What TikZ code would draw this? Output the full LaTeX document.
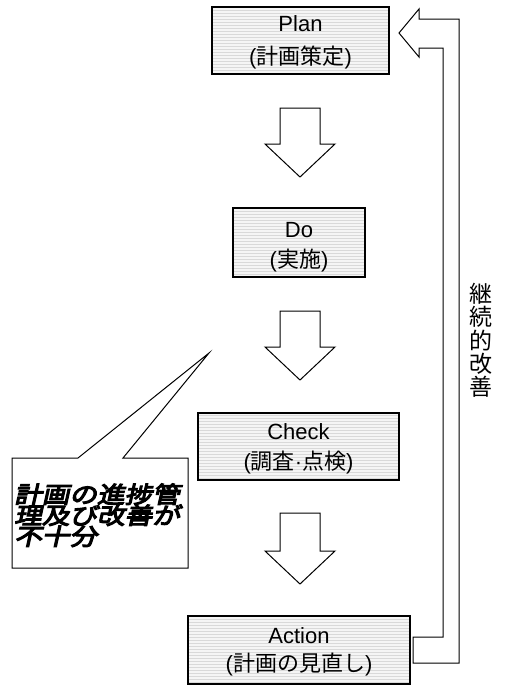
\documentclass[tikz,border=0pt]{standalone}
\usepackage{fontspec}
\setmainfont{Liberation Sans}
\newfontfamily\cjk{Noto Sans CJK JP}
\newfontfamily\cjkbi{Noto Sans CJK JP}[FakeSlant=0.22,FakeStretch=1.2,FakeBold=5]
\usetikzlibrary{patterns}
\tikzset{
  stagebox/.style={draw=black, line width=1.3pt, pattern=horizontal lines, pattern color=gray!30,
    preaction={fill=gray!8}, inner sep=0pt},
  ltxt/.style={font=\fontsize{22}{24}\selectfont, anchor=base, inner sep=0pt},
  jtxt/.style={font=\fontsize{22}{24}\selectfont, anchor=base, inner sep=0pt},
  blockarrow/.style={draw=black, line width=1pt, fill=white, line join=miter},
  calloutbox/.style={draw=black, line width=1pt, fill=white, line join=miter},
  ctxt/.style={font=\cjkbi\fontsize{23}{23}\selectfont, anchor=base west, inner sep=0pt},
}
\begin{document}
\begin{tikzpicture}[x=1pt,y=-1pt]
\useasboundingbox (0,0) rectangle (509,686);

% stage boxes
\node[stagebox, minimum width=177pt, minimum height=67pt] (plan) at (300.5,40.5) {};
\node[stagebox, minimum width=132pt, minimum height=69pt] (do) at (299,242.5) {};
\node[stagebox, minimum width=201pt, minimum height=67pt] (check) at (298.5,446.5) {};
\node[stagebox, minimum width=222pt, minimum height=68pt] (action) at (299,650) {};

% labels
\node[ltxt] (planL) at (300.5,31) {Plan};
\node[jtxt] (planJ) at (300.5,64) {({\cjk 計画策定})};
\node[ltxt] (doL) at (299,237) {Do};
\node[jtxt] (doJ) at (299,267) {({\cjk 実施})};
\node[ltxt] (checkL) at (298.5,439) {Check};
\node[jtxt] (checkJ) at (298.5,469) {({\cjk 調査}·{\cjk 点検})};
\node[ltxt] (actionL) at (299,643) {Action};
\node[jtxt] (actionJ) at (299,671) {({\cjk 計画の見直し})};

% down block arrows
\draw[blockarrow] (280,108) -- (320,108) -- (320,144) -- (335,144) -- (300,177) -- (265,144) -- (280,144) -- cycle;
\draw[blockarrow] (280,311) -- (320,311) -- (320,347) -- (335,347) -- (300,380) -- (265,347) -- (280,347) -- cycle;
\draw[blockarrow] (280,513) -- (320,513) -- (320,551) -- (335,551) -- (300,584) -- (265,551) -- (280,551) -- cycle;

% feedback arrow
\draw[blockarrow] (443,48) -- (419,48) -- (419,57) -- (399,33) -- (419,9) -- (419,19) -- (459,19)
  -- (459,663) -- (413,663) -- (413,637) -- (443,637) -- cycle;

\node[font=\cjk\fontsize{23}{23.3}\selectfont, align=center, inner sep=0pt] (kaizen) at (481,340.5)
  {継\\続\\的\\改\\善};

% callout
\draw[calloutbox] (12,458) -- (78,458) -- (209,353) -- (123,458) -- (188,458) -- (188,568) -- (12,568) -- cycle;
\node[ctxt] (c1) at (14,503) {計画の進捗管};
\node[ctxt] (c2) at (14,524) {理及び改善が};
\node[ctxt] (c3) at (14,545) {不十分};
\end{tikzpicture}
\end{document}
